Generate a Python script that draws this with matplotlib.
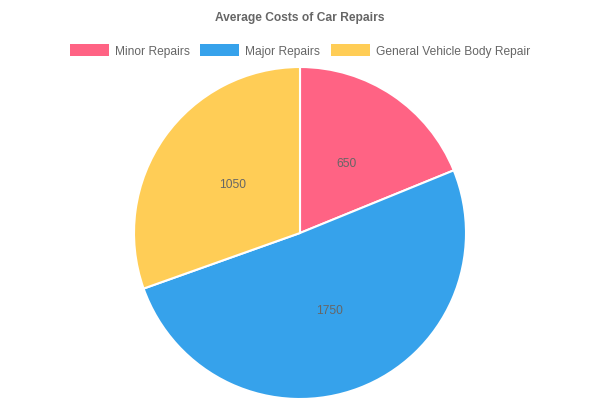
import matplotlib
matplotlib.use("Agg")
import matplotlib.pyplot as plt
from matplotlib.patches import Rectangle

categories = ["Minor Repairs", "Major Repairs", "General Vehicle Body Repair"]
values = [650, 1750, 1050]
colors = ["#FF6384", "#36A2EB", "#FFCD56"]
title = "Average Costs of Car Repairs"

plt.rcParams['font.family'] = ['Liberation Sans', 'DejaVu Sans']
W, H = 600, 400
fs = 12 * 72 / 100  # 12px
fig = plt.figure(figsize=(6, 4), dpi=100)

cx, cy, r = 300, 233, 166
ax = fig.add_axes([(cx - r) / W, (H - cy - r) / H, 2 * r / W, 2 * r / H])
total = sum(values)
wedges, texts, autotexts = ax.pie(
    values, colors=colors, startangle=90, counterclock=False,
    autopct=lambda p: f"{round(p * total / 100):d}", pctdistance=0.5,
    wedgeprops=dict(edgecolor="white", linewidth=1.5),
    textprops=dict(color="#666666", fontsize=fs), radius=1.0)
ax.set_xlim(-1, 1)
ax.set_ylim(-1, 1)
ax.axis("off")

fig.text(0.5, 1 - 17 / H, title, ha="center", va="center_baseline",
         fontsize=fs, fontweight="bold", color="#666666")

# legend
legend_y = 50
box_w, box_h = 39, 12
xs = [70, 200, 331]
for x, lab, col in zip(xs, categories, colors):
    fig.patches.append(Rectangle((x / W, 1 - (legend_y + box_h / 2) / H), box_w / W, box_h / H,
                                 transform=fig.transFigure, facecolor=col, edgecolor="none"))
    fig.text((x + box_w + 6) / W, 1 - legend_y / H, lab, ha="left", va="center_baseline",
             fontsize=fs, color="#666666")

fig.savefig("out.png", dpi=100)
